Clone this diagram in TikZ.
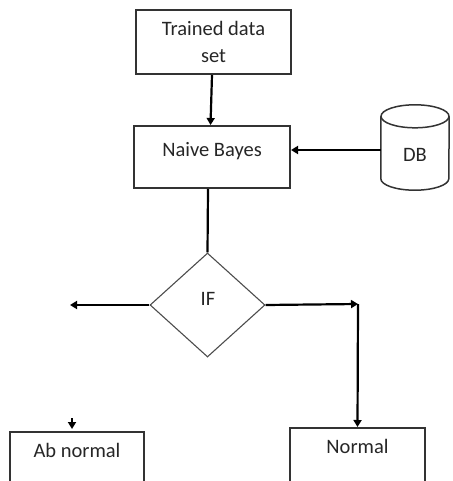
\documentclass[tikz,border=0pt]{standalone}
\usepackage{fontspec}
\setmainfont{Carlito}
\usetikzlibrary{arrows.meta,shapes.geometric}
\begin{document}
\begin{tikzpicture}[x=1pt,y=-1pt,
  every node/.style={font=\fontsize{20.5}{27}\selectfont, text=black!85},
  procbox/.style={draw=black!80, line width=2pt, inner sep=0pt, align=center},
  conn/.style={line width=2.2pt, -{Triangle[length=7pt,width=8pt]}},
  plain/.style={line width=2.2pt},
  cyl/.style={draw=black!80, line width=1.5pt}]
\clip (0,0) rectangle (452,481);
\useasboundingbox (0,0) rectangle (452,481);
\node[procbox, minimum width=155pt, minimum height=64pt] (trained) at (213.5,42) {Trained data\\set};
\node[procbox, minimum width=156pt, minimum height=62pt] (naive) at (212,157) {Naive Bayes\\[-12pt]\phantom{x}};
\node[minimum width=68pt, minimum height=85pt, inner sep=0pt] (db) at (415,147.5) {};
\node at (415,155) {DB};
\draw[cyl] ([yshift=-11.5pt]db.north) ellipse [x radius=34pt, y radius=11.5pt];
\draw[cyl] ([yshift=-11.5pt]db.north west) -- ([yshift=11.5pt]db.south west)
  arc[start angle=180, end angle=360, x radius=34pt, y radius=11.5pt]
  -- ([yshift=-11.5pt]db.north east);
\node[diamond, draw=black!70, line width=1.1pt, minimum width=115pt, minimum height=104pt, inner sep=0pt] (if) at (207.5,305) {};
\node at (208,299) {IF};
\node[procbox, anchor=north, minimum width=134pt, text height=25pt, text depth=60pt] (ab) at (77,431) {Ab normal};
\node[procbox, anchor=north, minimum width=135pt, text height=25pt, text depth=60pt] (normal) at (357.5,427) {Normal};
\coordinate (r1) at (358,304);
\coordinate (l1) at (70,305);
\coordinate (a1) at (72,418);
\coordinate (a2) at (72,429);
\draw[conn] ([xshift=-1.5pt]trained.south) -- ([xshift=-1.5pt]naive.north);
\draw[conn] (db.west |- 0,150) -- (naive.east |- 0,150);
\draw[plain] ([xshift=-4pt]naive.south) -- (if.north);
\draw[conn] (if.west) -- (l1);
\draw[conn] (if.east) -- (r1);
\draw[conn] (r1) -- (normal.north);
\draw[conn] (a1) -- (a2);
\end{tikzpicture}
\end{document}
